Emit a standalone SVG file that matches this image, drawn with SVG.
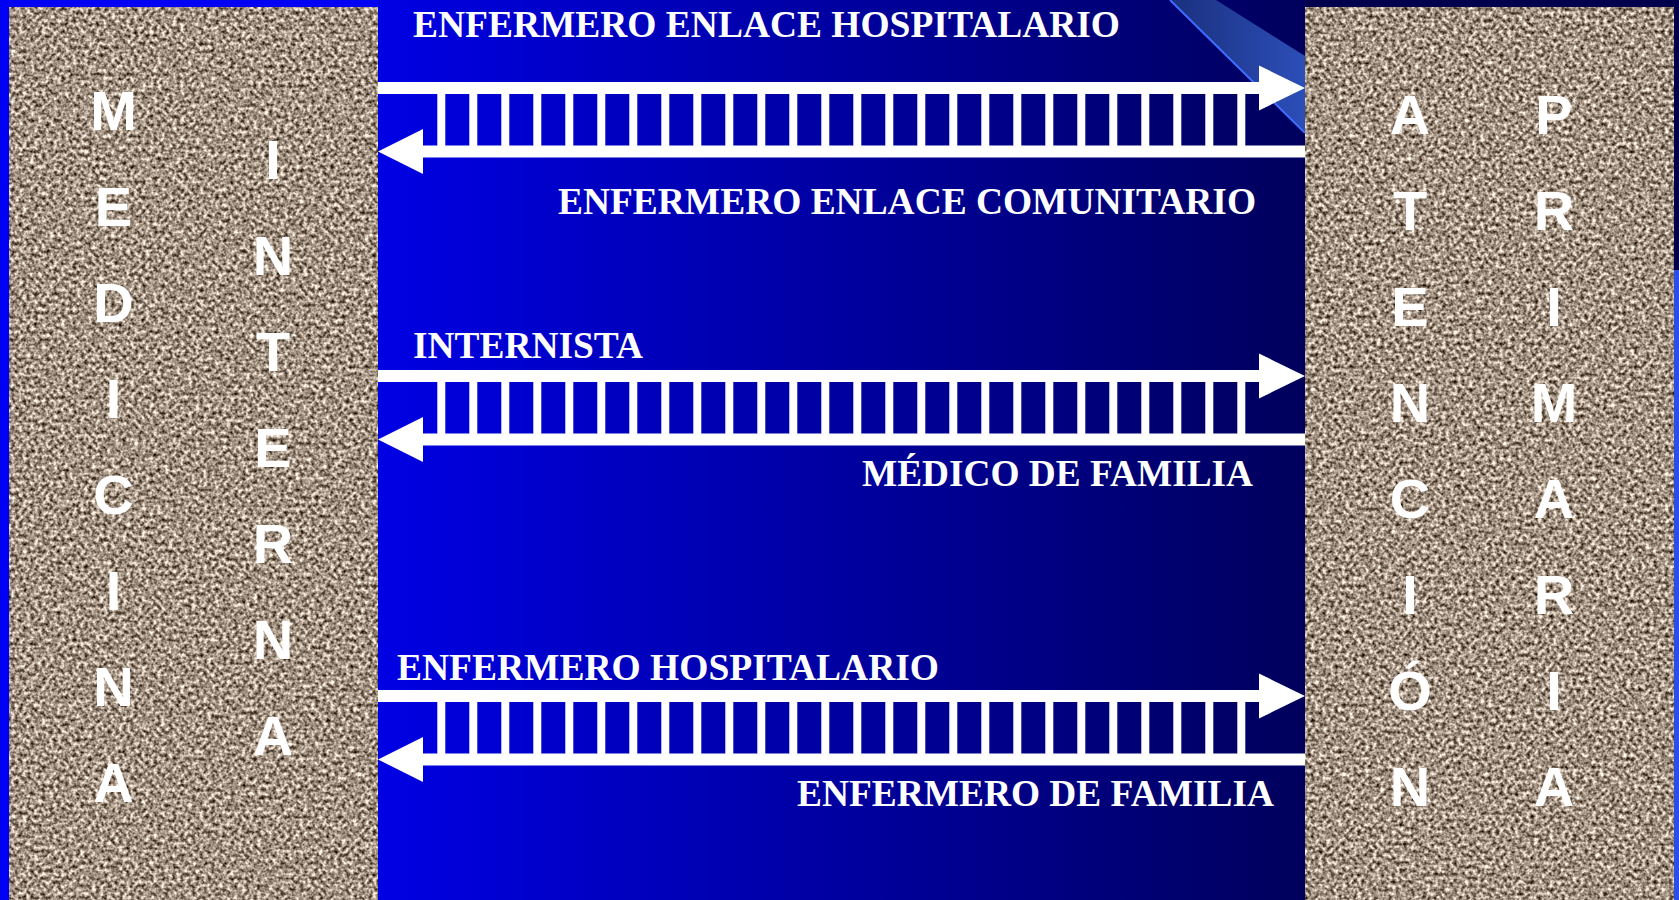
<svg xmlns="http://www.w3.org/2000/svg" width="1679" height="900" viewBox="0 0 1679 900">
  <style>
    .lbl { font-family: "Liberation Serif", "Times New Roman", serif; font-weight: bold; font-size: 37.5px; fill: #ffffff; }
    .vl { font-family: "Liberation Sans", Arial, sans-serif; font-weight: bold; font-size: 56px; fill: #ffffff; text-anchor: middle; }
    .wh { fill: #ffffff; }
  </style>
  <defs>
    <linearGradient id="bg" gradientUnits="userSpaceOnUse" x1="378" y1="0" x2="1305" y2="0">
      <stop offset="0" stop-color="#0000e4"/>
      <stop offset="1" stop-color="#00005c"/>
    </linearGradient>
    <linearGradient id="band" gradientUnits="userSpaceOnUse" x1="1170" y1="0" x2="1305" y2="0">
      <stop offset="0" stop-color="#1a307e"/>
      <stop offset="1" stop-color="#2c4eb8"/>
    </linearGradient>
    <filter id="granite" x="0" y="0" width="100%" height="100%" color-interpolation-filters="sRGB">
      <feTurbulence type="fractalNoise" baseFrequency="0.26" numOctaves="2" seed="7" result="n"/>
      <feColorMatrix in="n" type="matrix" values="1.5 0 0 0 -0.12  1.5 0 0 0 -0.18  1.5 0 0 0 -0.24  0 0 0 0 1"/>
    </filter>
    <g id="ladder">
      <rect class="wh" x="378" y="82" width="884" height="12"/>
      <polygon class="wh" points="1259,65.5 1305,88 1259,110.5"/>
      <rect class="wh" x="421" y="145.5" width="884" height="12"/>
      <polygon class="wh" points="423,129 378,151.5 423,174"/>
      <g class="wh">
        <rect x="437.3" y="93" width="8" height="53"/>
        <rect x="469.3" y="93" width="8" height="53"/>
        <rect x="501.3" y="93" width="8" height="53"/>
        <rect x="533.3" y="93" width="8" height="53"/>
        <rect x="565.3" y="93" width="8" height="53"/>
        <rect x="597.3" y="93" width="8" height="53"/>
        <rect x="629.3" y="93" width="8" height="53"/>
        <rect x="661.3" y="93" width="8" height="53"/>
        <rect x="693.3" y="93" width="8" height="53"/>
        <rect x="725.3" y="93" width="8" height="53"/>
        <rect x="757.3" y="93" width="8" height="53"/>
        <rect x="789.3" y="93" width="8" height="53"/>
        <rect x="821.3" y="93" width="8" height="53"/>
        <rect x="853.3" y="93" width="8" height="53"/>
        <rect x="885.3" y="93" width="8" height="53"/>
        <rect x="917.3" y="93" width="8" height="53"/>
        <rect x="949.3" y="93" width="8" height="53"/>
        <rect x="981.3" y="93" width="8" height="53"/>
        <rect x="1013.3" y="93" width="8" height="53"/>
        <rect x="1045.3" y="93" width="8" height="53"/>
        <rect x="1077.3" y="93" width="8" height="53"/>
        <rect x="1109.3" y="93" width="8" height="53"/>
        <rect x="1141.3" y="93" width="8" height="53"/>
        <rect x="1173.3" y="93" width="8" height="53"/>
        <rect x="1205.3" y="93" width="8" height="53"/>
        <rect x="1237.3" y="93" width="8" height="53"/>
      </g>
    </g>
  </defs>

  <!-- background -->
  <rect x="0" y="0" width="1679" height="900" fill="url(#bg)"/>
  <rect x="0" y="0" width="378" height="900" fill="#0000f2"/>
  <rect x="1305" y="0" width="374" height="900" fill="#00004c"/>
  <rect x="1674" y="270" width="5" height="630" fill="#2a4ee6"/>
  <polygon points="1170,0 1216,0 1305,56 1305,133" fill="url(#band)"/>
  <line x1="1170" y1="0" x2="1305" y2="133" stroke="#3f6cff" stroke-width="2"/>

  <!-- left panel -->
  <g id="medicina-interna">
    <rect x="9" y="7" width="369" height="893" fill="#9c9084" filter="url(#granite)"/>
    <text class="vl" x="113.5" y="130">M</text>
    <text class="vl" x="113.5" y="226">E</text>
    <text class="vl" x="113.5" y="322">D</text>
    <text class="vl" x="113.5" y="418">I</text>
    <text class="vl" x="113.5" y="514">C</text>
    <text class="vl" x="113.5" y="610">I</text>
    <text class="vl" x="113.5" y="706">N</text>
    <text class="vl" x="113.5" y="802">A</text>
    <text class="vl" x="273" y="179">I</text>
    <text class="vl" x="273" y="275">N</text>
    <text class="vl" x="273" y="371">T</text>
    <text class="vl" x="273" y="467">E</text>
    <text class="vl" x="273" y="563">R</text>
    <text class="vl" x="273" y="659">N</text>
    <text class="vl" x="273" y="755">A</text>
  </g>

  <!-- right panel -->
  <g id="atencion-primaria">
    <rect x="1305" y="7" width="369" height="893" fill="#9c9084" filter="url(#granite)"/>
    <text class="vl" x="1410" y="134">A</text>
    <text class="vl" x="1410" y="230">T</text>
    <text class="vl" x="1410" y="326">E</text>
    <text class="vl" x="1410" y="422">N</text>
    <text class="vl" x="1410" y="518">C</text>
    <text class="vl" x="1410" y="614">I</text>
    <text class="vl" x="1410" y="710">Ó</text>
    <text class="vl" x="1410" y="806">N</text>
    <text class="vl" x="1554" y="134">P</text>
    <text class="vl" x="1554" y="230">R</text>
    <text class="vl" x="1554" y="326">I</text>
    <text class="vl" x="1554" y="422">M</text>
    <text class="vl" x="1554" y="518">A</text>
    <text class="vl" x="1554" y="614">R</text>
    <text class="vl" x="1554" y="710">I</text>
    <text class="vl" x="1554" y="806">A</text>
  </g>

  <!-- connectors -->
  <g id="connectors">
    <use href="#ladder"/>
    <use href="#ladder" transform="translate(0,288)"/>
    <use href="#ladder" transform="translate(0,608)"/>
  </g>

  <!-- labels -->
  <g id="labels">
    <text id="t-enlace-hosp" class="lbl" x="413" y="37" textLength="707" lengthAdjust="spacingAndGlyphs">ENFERMERO ENLACE HOSPITALARIO</text>
    <text id="t-enlace-com" class="lbl" x="558" y="213.5" textLength="698" lengthAdjust="spacingAndGlyphs">ENFERMERO ENLACE COMUNITARIO</text>
    <text id="t-internista" class="lbl" x="413" y="358" textLength="230" lengthAdjust="spacingAndGlyphs">INTERNISTA</text>
    <text id="t-medico" class="lbl" x="862" y="486" textLength="391" lengthAdjust="spacingAndGlyphs">MÉDICO DE FAMILIA</text>
    <text id="t-enf-hosp" class="lbl" x="397" y="680" textLength="542" lengthAdjust="spacingAndGlyphs">ENFERMERO HOSPITALARIO</text>
    <text id="t-enf-fam" class="lbl" x="797" y="806" textLength="477" lengthAdjust="spacingAndGlyphs">ENFERMERO DE FAMILIA</text>
  </g>
</svg>
